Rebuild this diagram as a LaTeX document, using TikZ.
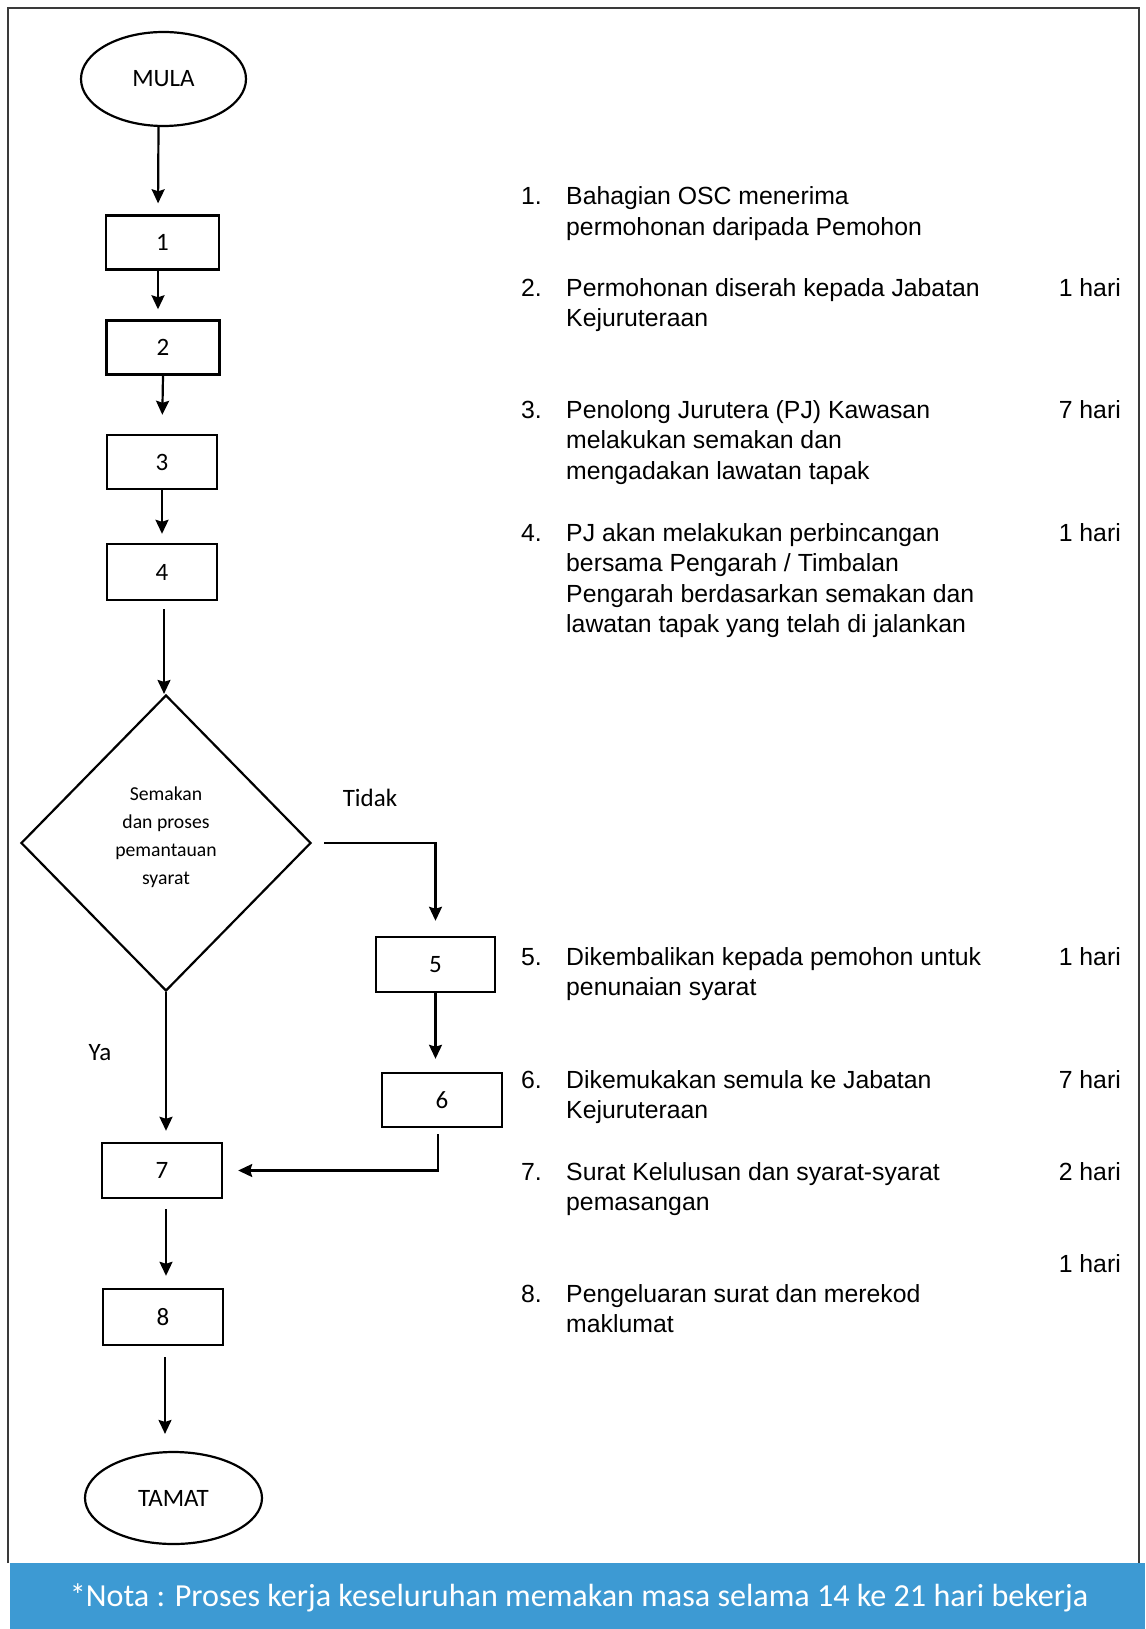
\documentclass[tikz,border=0pt]{standalone}
\usepackage{fontspec}
\setmainfont{Liberation Sans}
\newfontfamily\calibri{Carlito}
\usetikzlibrary{shapes.geometric, arrows.meta, positioning}
\definecolor{notablue}{HTML}{3D9AD3}
\definecolor{framegray}{HTML}{3A3A3A}
\tikzset{
  stepbox/.style = {draw, line width=2.4pt, minimum width=113pt, minimum height=54pt, inner sep=0pt, font=\calibri\fontsize{25}{30}\selectfont},
  endpoint/.style = {draw, ellipse, line width=2.2pt, inner sep=0pt, font=\calibri\fontsize{25}{30}\selectfont},
  decision/.style = {draw, diamond, line width=2.2pt, inner sep=0pt, align=center, text depth=15pt, font=\calibri\fontsize{19.7}{28}\selectfont},
  flowlabel/.style = {inner sep=0pt, font=\calibri\fontsize{25}{30}\selectfont},
  itemtext/.style = {anchor=base west, align=left, inner sep=0pt, font=\fontsize{24.8}{30.5}\selectfont},
  daycount/.style = {anchor=base east, inner sep=0pt, font=\fontsize{24.8}{30.5}\selectfont},
  flow/.style = {line width=2.2pt, -{Stealth[length=14pt, width=13pt, inset=2pt]}}
}
\begin{document}
\begin{tikzpicture}[x=1pt, y=-1pt]
\useasboundingbox (0,0) rectangle (1145,1629);
\draw [framegray, line width=2pt] (8,1563) |- (1139,8) -- (1139,1563);
\fill [notablue] (10,1563) rectangle (1145,1629);
\node [text=white, inner sep=0pt, font=\calibri\fontsize{32.1}{38}\selectfont] (nota) at (579,1598) {*Nota : Proses kerja keseluruhan memakan masa selama 14 ke 21 hari bekerja};

\node [endpoint, minimum width=165pt, minimum height=94pt] (mula) at (163.5,79) {MULA};
\node [stepbox] (s1) at (162.5,242.5) {1};
\node [stepbox] (s2) at (163,347.5) {2};
\node [stepbox, minimum width=110pt] (s3) at (162,462) {3};
\node [stepbox, minimum width=110pt, minimum height=56pt] (s4) at (162,572) {4};
\node [decision, minimum width=290pt, minimum height=296pt] (semak) at (166,843) {Semakan\\dan proses\\pemantauan\\syarat};
\node [stepbox, minimum width=119pt, minimum height=55pt] (s5) at (435.5,964.5) {5};
\node [stepbox, minimum width=120pt] (s6) at (442,1100) {6};
\node [stepbox, minimum width=120pt, minimum height=55pt] (s7) at (162,1170.5) {7};
\node [stepbox, minimum width=120pt, minimum height=56pt] (s8) at (163,1317) {8};
\node [endpoint, minimum width=177pt, minimum height=92pt] (tamat) at (173.5,1498) {TAMAT};
\node [flowlabel] (tidak) at (370,798) {Tidak};
\node [flowlabel] (ya) at (100,1053) {Ya};

\draw [flow, shorten >=11pt] ([xshift=-5pt]mula.south) -- ([xshift=-4.5pt]s1.north);
\draw [flow, shorten >=10pt] ([xshift=-4.5pt]s1.south) -- ([xshift=-5pt]s2.north);
\draw [flow, shorten >=19pt] (s2.south) -- (s3.north);
\draw [flow, shorten >=9pt] (s3.south) -- (s3.south |- s4.north);
\draw [flow, shorten <=8pt] ([xshift=2pt]s4.south) -- ([xshift=-2pt]semak.north);
\draw [flow, shorten >=11pt] (semak.south) -- (semak.south |- s7.north);
\draw [flow, shorten >=15pt] ([xshift=12pt]semak.east) -| (s5.north);
\draw [flow, shorten >=13pt] (s5.south) -- (s5.south |- s6.north);
\draw [flow, shorten <=6pt, shorten >=15pt] ([xshift=-4pt]s6.south) |- (s7.east);
\draw [flow, shorten <=10pt, shorten >=12pt] ([xshift=4pt]s7.south) -- ([xshift=3pt]s8.north);
\draw [flow, shorten <=11pt, shorten >=17pt] ([xshift=2pt]s8.south) -- ([xshift=2pt]s8.south |- tamat.north);

\node [itemtext] (n1) at (521,205) {1.};
\node [itemtext] (t1) at (566,235.5) {Bahagian OSC menerima\\permohonan daripada Pemohon};
\node [itemtext] (n2) at (521,296) {2.};
\node [itemtext] (t2) at (566,326.5) {Permohonan diserah kepada Jabatan\\Kejuruteraan};
\node [daycount] (d2) at (1121,296) {1 hari};
\node [itemtext] (n3) at (521,418) {3.};
\node [itemtext] (t3) at (566,479) {Penolong Jurutera (PJ) Kawasan\\melakukan semakan dan\\mengadakan lawatan tapak};
\node [daycount] (d3) at (1121,418) {7 hari};
\node [itemtext] (n4) at (521,541) {4.};
\node [itemtext] (t4) at (566,632.5) {PJ akan melakukan perbincangan\\bersama Pengarah / Timbalan\\Pengarah berdasarkan semakan dan\\lawatan tapak yang telah di jalankan};
\node [daycount] (d4) at (1121,541) {1 hari};
\node [itemtext] (n5) at (521,965) {5.};
\node [itemtext] (t5) at (566,995.5) {Dikembalikan kepada pemohon untuk\\penunaian syarat};
\node [daycount] (d5) at (1121,965) {1 hari};
\node [itemtext] (n6) at (521,1088) {6.};
\node [itemtext] (t6) at (566,1118.5) {Dikemukakan semula ke Jabatan\\Kejuruteraan};
\node [daycount] (d6) at (1121,1088) {7 hari};
\node [itemtext] (n7) at (521,1180) {7.};
\node [itemtext] (t7) at (566,1210.5) {Surat Kelulusan dan syarat-syarat\\pemasangan};
\node [daycount] (d7) at (1121,1180) {2 hari};
\node [daycount] (d8) at (1121,1272) {1 hari};
\node [itemtext] (n8) at (521,1302) {8.};
\node [itemtext] (t8) at (566,1332.5) {Pengeluaran surat dan merekod\\maklumat};
\end{tikzpicture}
\end{document}
